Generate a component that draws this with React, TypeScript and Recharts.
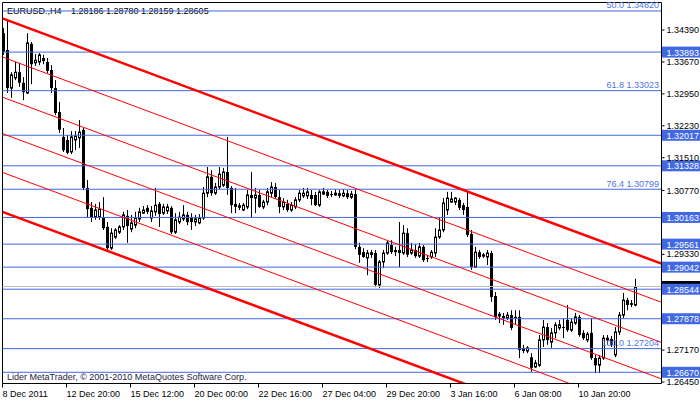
import React from 'react';
import { ComposedChart, XAxis, YAxis, Bar, Line, ReferenceLine, Customized, LabelList } from 'recharts';

const opens = [
  1.3432, 1.3394, 1.3308, 1.3331, 1.3344, 1.3320, 1.3297, 1.3408, 1.3365, 1.3367,
  1.3376, 1.3367, 1.3349, 1.3308, 1.3254, 1.3198, 1.3191, 1.3164, 1.3191, 1.3196,
  1.3214, 1.3083, 1.3038, 1.3017, 1.3017, 1.3017, 1.2995, 1.2947, 1.2972, 1.2983,
  1.2995, 1.3020, 1.2990, 1.2999, 1.3013, 1.3026, 1.3038, 1.3015, 1.3029, 1.3047,
  1.3026, 1.3031, 1.3038, 1.2983, 1.3006, 1.3013, 1.3022, 1.3017, 1.3006, 1.3004,
  1.3015, 1.3071, 1.3108, 1.3071, 1.3085, 1.3089, 1.3119, 1.3083, 1.3047, 1.3044,
  1.3033, 1.3040, 1.3067, 1.3060, 1.3067, 1.3040, 1.3051, 1.3071, 1.3085, 1.3062,
  1.3040, 1.3047, 1.3033, 1.3040, 1.3056, 1.3065, 1.3065, 1.3067, 1.3067, 1.3044,
  1.3069, 1.3074, 1.3069, 1.3067, 1.3071, 1.3065, 1.3071, 1.3062, 1.3069, 1.2950,
  1.2938, 1.2925, 1.2938, 1.2936, 1.2864, 1.2916, 1.2936, 1.2954, 1.2943, 1.2943,
  1.2936, 1.2981, 1.2936, 1.2943, 1.2929, 1.2950, 1.2925, 1.2927, 1.2936, 1.2972,
  1.2988, 1.3033, 1.3051, 1.3051, 1.3056, 1.3044, 1.3040, 1.2979, 1.2904, 1.2938,
  1.2929, 1.2927, 1.2936, 1.2839, 1.2794, 1.2794, 1.2789, 1.2796, 1.2792, 1.2792,
  1.2722, 1.2715, 1.2701, 1.2679, 1.2683, 1.2740, 1.2769, 1.2735, 1.2756, 1.2767,
  1.2769, 1.2785, 1.2762, 1.2778, 1.2792, 1.2756, 1.2740, 1.2756, 1.2699, 1.2683,
  1.2699, 1.2740, 1.2742, 1.2706, 1.2758, 1.2796, 1.2830, 1.2823, 1.28186,
];

const highs = [
  1.3444, 1.3462, 1.3344, 1.3367, 1.3365, 1.3333, 1.3432, 1.3412, 1.3385, 1.3387,
  1.3383, 1.3376, 1.3360, 1.3326, 1.3277, 1.3218, 1.3202, 1.3211, 1.3211, 1.3236,
  1.3218, 1.3101, 1.3051, 1.3047, 1.3051, 1.3062, 1.3006, 1.2992, 1.2992, 1.2999,
  1.3029, 1.3033, 1.3022, 1.3029, 1.3038, 1.3042, 1.3044, 1.3042, 1.3083, 1.3051,
  1.3047, 1.3047, 1.3042, 1.3026, 1.3029, 1.3044, 1.3029, 1.3026, 1.3022, 1.3024,
  1.3085, 1.3130, 1.3123, 1.3094, 1.3130, 1.3128, 1.3198, 1.3087, 1.3083, 1.3049,
  1.3049, 1.3078, 1.3119, 1.3083, 1.3078, 1.3056, 1.3083, 1.3096, 1.3094, 1.3078,
  1.3060, 1.3056, 1.3051, 1.3062, 1.3078, 1.3083, 1.3083, 1.3078, 1.3074, 1.3078,
  1.3083, 1.3078, 1.3076, 1.3080, 1.3078, 1.3080, 1.3078, 1.3076, 1.3080, 1.2959,
  1.2947, 1.2943, 1.2943, 1.2943, 1.2920, 1.2943, 1.2965, 1.2965, 1.2950, 1.3006,
  1.2999, 1.2992, 1.2959, 1.2956, 1.2959, 1.2954, 1.2932, 1.2943, 1.2992, 1.3015,
  1.3060, 1.3074, 1.3074, 1.3062, 1.3060, 1.3049, 1.3074, 1.2988, 1.2950, 1.2943,
  1.2936, 1.2943, 1.2941, 1.2848, 1.2803, 1.2801, 1.2803, 1.2807, 1.2807, 1.2807,
  1.2729, 1.2726, 1.2710, 1.2695, 1.2751, 1.2785, 1.2778, 1.2767, 1.2780, 1.2785,
  1.2789, 1.2819, 1.2789, 1.2801, 1.2796, 1.2762, 1.2758, 1.2789, 1.2706, 1.2706,
  1.2751, 1.2751, 1.2749, 1.2769, 1.2803, 1.2846, 1.2835, 1.2830, 1.28780,
];

const lows = [
  1.3383, 1.3297, 1.3286, 1.3326, 1.3311, 1.3281, 1.3295, 1.3317, 1.3358, 1.3360,
  1.3362, 1.3342, 1.3297, 1.3247, 1.3207, 1.3164, 1.3159, 1.3159, 1.3168, 1.3173,
  1.3078, 1.3017, 1.3006, 1.3011, 1.3011, 1.2988, 1.2943, 1.2943, 1.2968, 1.2979,
  1.2988, 1.2959, 1.2983, 1.2992, 1.3006, 1.3024, 1.3024, 1.3006, 1.3020, 1.2995,
  1.3022, 1.3024, 1.2979, 1.2979, 1.3001, 1.3008, 1.2999, 1.2988, 1.2997, 1.3001,
  1.3011, 1.3062, 1.3065, 1.3067, 1.3080, 1.3085, 1.3067, 1.3026, 1.3026, 1.3033,
  1.3031, 1.3035, 1.3017, 1.3026, 1.3038, 1.3035, 1.3044, 1.3062, 1.3058, 1.3026,
  1.3033, 1.3029, 1.3029, 1.3035, 1.3051, 1.3060, 1.3058, 1.3044, 1.3042, 1.3040,
  1.3067, 1.3060, 1.3062, 1.3065, 1.3060, 1.3062, 1.3058, 1.3058, 1.2945, 1.2914,
  1.2925, 1.2886, 1.2925, 1.2859, 1.2857, 1.2902, 1.2932, 1.2934, 1.2929, 1.2904,
  1.2932, 1.2927, 1.2932, 1.2925, 1.2925, 1.2916, 1.2916, 1.2923, 1.2927, 1.2968,
  1.2983, 1.3022, 1.3049, 1.3044, 1.3033, 1.3022, 1.2972, 1.2898, 1.2904, 1.2923,
  1.2925, 1.2909, 1.2826, 1.2785, 1.2778, 1.2774, 1.2785, 1.2762, 1.2774, 1.2699,
  1.2710, 1.2710, 1.2668, 1.2677, 1.2679, 1.2724, 1.2729, 1.2722, 1.2744, 1.2762,
  1.2744, 1.2758, 1.2758, 1.2774, 1.2747, 1.2740, 1.2735, 1.2695, 1.2665, 1.2665,
  1.2695, 1.2729, 1.2724, 1.2701, 1.2751, 1.2789, 1.2807, 1.2814, 1.28159,
];

const closes = [
  1.3390, 1.3308, 1.3338, 1.3344, 1.3320, 1.3299, 1.3410, 1.3362, 1.3371, 1.3383,
  1.3369, 1.3347, 1.3308, 1.3252, 1.3214, 1.3168, 1.3162, 1.3198, 1.3200, 1.3209,
  1.3083, 1.3035, 1.3017, 1.3033, 1.3035, 1.2992, 1.2947, 1.2981, 1.2988, 1.2995,
  1.3022, 1.2997, 1.3004, 1.3015, 1.3029, 1.3033, 1.3029, 1.3031, 1.3044, 1.3024,
  1.3040, 1.3040, 1.2983, 1.3011, 1.3017, 1.3022, 1.3006, 1.3006, 1.3013, 1.3015,
  1.3071, 1.3108, 1.3071, 1.3085, 1.3114, 1.3119, 1.3083, 1.3044, 1.3040, 1.3038,
  1.3044, 1.3067, 1.3060, 1.3067, 1.3040, 1.3051, 1.3074, 1.3085, 1.3062, 1.3040,
  1.3051, 1.3033, 1.3044, 1.3056, 1.3071, 1.3071, 1.3074, 1.3058, 1.3044, 1.3074,
  1.3074, 1.3065, 1.3067, 1.3071, 1.3065, 1.3071, 1.3062, 1.3069, 1.2950, 1.2932,
  1.2927, 1.2936, 1.2932, 1.2864, 1.2916, 1.2936, 1.2959, 1.2938, 1.2938, 1.2936,
  1.2981, 1.2932, 1.2943, 1.2929, 1.2950, 1.2920, 1.2923, 1.2938, 1.2972, 1.2988,
  1.3049, 1.3060, 1.3058, 1.3060, 1.3038, 1.3033, 1.2977, 1.2904, 1.2938, 1.2927,
  1.2932, 1.2936, 1.2837, 1.2792, 1.2798, 1.2789, 1.2796, 1.2767, 1.2789, 1.2717,
  1.2715, 1.2722, 1.2677, 1.2688, 1.2740, 1.2769, 1.2740, 1.2756, 1.2774, 1.2774,
  1.2767, 1.2762, 1.2780, 1.2792, 1.2751, 1.2744, 1.2753, 1.2699, 1.2683, 1.2699,
  1.2744, 1.2744, 1.2729, 1.2758, 1.2796, 1.2830, 1.2819, 1.2819, 1.28605,
];

const timeTickBars = [0, 16, 32, 48, 64, 80, 96, 112, 128, 144];
const timeTickLabels = [
  '8 Dec 2011', '12 Dec 20:00', '15 Dec 12:00', '20 Dec 00:00', '22 Dec 16:00',
  '27 Dec 04:00', '29 Dec 20:00', '3 Jan 16:00', '6 Jan 08:00', '10 Jan 20:00',
];
const priceTicks = [1.2645, 1.2717, 1.2933, 1.3077, 1.3151, 1.3223, 1.3295, 1.3367, 1.3439];
const boxedLevels = [1.33893, 1.32017, 1.31328, 1.30163, 1.29561, 1.29042, 1.28544, 1.27878, 1.2667];
const fiboLevels = [1.3482, 1.33023, 1.30799, 1.27204];
const fiboRatios = ['50.0', '61.8', '76.4', '100.0'];
const lastPrice = 1.28605;
const headerSymbol = 'EURUSD.,H4';
const copyright = 'Lider MetaTrader, \u00a9 2001-2010 MetaQuotes Software Corp.';

// channel lines: price at left edge and at right edge of the chart
const channelStart = [1.34653, 1.33782, 1.32876, 1.32054, 1.31179, 1.3029];
const channelEnd = [1.2912, 1.28249, 1.27342, 1.26521, 1.25646, 1.24757];

const X_START = -0.25;
const X_END = 164.375;
const Y_MIN = 1.264171;
const Y_MAX = 1.350117;

const FONT = '"Liberation Sans", Arial, sans-serif';
const BLUE = '#4169E1';
const FIBO_TEXT = '#5073e6';

const candles = opens.map((o, i) => ({
  x: i,
  open: o,
  high: highs[i],
  low: lows[i],
  close: closes[i],
  range: [lows[i], highs[i]],
}));

const fiboPoints = fiboLevels.map((v, i) => ({
  x: X_END,
  y: v,
  text: fiboRatios[i] + ' ' + v.toFixed(5),
}));

const Candle = (props: any) => {
  const { x, y, width, height, payload } = props;
  if (payload == null || x == null) return null;
  const { open, high, low, close } = payload;
  const cx = Math.round(x + width / 2 - 0.5) + 0.5;
  const top = Math.min(y, y + height);
  const h = Math.abs(height);
  const k = high - low > 0 ? h / (high - low) : 0;
  const yO = top + (high - open) * k;
  const yC = top + (high - close) * k;
  const bTop = Math.min(yO, yC);
  const bH = Math.max(Math.abs(yC - yO), 1);
  const bull = close >= open;
  if (bull) {
    return (
      <g>
        <line x1={cx} x2={cx} y1={top} y2={bTop} stroke="#000" strokeWidth={1} />
        <line x1={cx} x2={cx} y1={bTop + bH} y2={top + h} stroke="#000" strokeWidth={1} />
        <rect x={cx - 1} y={bTop} width={2} height={bH} fill="none" stroke="#000" strokeWidth={1} />
      </g>
    );
  }
  return (
    <g>
      <line x1={cx} x2={cx} y1={top} y2={top + h} stroke="#000" strokeWidth={1} />
      <rect x={cx - 1.5} y={bTop} width={3} height={bH} fill="#000" />
    </g>
  );
};

const PriceTick = (props: any) => {
  const { x, y, payload } = props;
  return (
    <g>
      <line x1={x} x2={x + 3} y1={y} y2={y} stroke="#000" strokeWidth={1} />
      <text x={x + 5} y={y + 3} fontSize={9} fontFamily={FONT} fill="#000">
        {Number(payload.value).toFixed(5)}
      </text>
    </g>
  );
};

const TimeTick = (props: any) => {
  const { x, y, payload } = props;
  const idx = timeTickBars.indexOf(payload.value);
  const xs = Math.round(x - 0.5) + 0.5;
  return (
    <g>
      <line x1={xs - 1} x2={xs - 1} y1={y} y2={y + 4} stroke="#000" strokeWidth={1} />
      <text x={xs - 1} y={y + 13.5} fontSize={9} fontFamily={FONT} fill="#000">
        {idx >= 0 ? timeTickLabels[idx] : ''}
      </text>
    </g>
  );
};

const boxLabel = (value: number, fill: string) => (props: any) => {
  const vb = props.viewBox || {};
  const xr = (vb.x || 0) + (vb.width || 0);
  const yy = vb.y || 0;
  return (
    <g>
      <rect x={xr + 0.5} y={yy - 5.5} width={40} height={11} fill={fill} />
      <text x={xr + 5} y={yy + 3.5} fontSize={9} fontFamily={FONT} fill="#fff">
        {value.toFixed(5)}
      </text>
    </g>
  );
};

const FiboText = (props: any) => {
  const { x, y, value } = props;
  if (x == null || y == null) return null;
  return (
    <text x={x - 2.5} y={y - 2.5} textAnchor="end" fontSize={9} fontFamily={FONT} fill={FIBO_TEXT}>
      {value}
    </text>
  );
};

const Texts = () => (
  <g>
    <text x={7} y={14} fontSize={9} fontFamily={FONT} fill="#000">
      {headerSymbol}
    </text>
    <text x={71} y={14} fontSize={9} fontFamily={FONT} fill="#000" style={{ whiteSpace: 'pre' }}>
      {[opens[opens.length - 1], highs[highs.length - 1], lows[lows.length - 1], closes[closes.length - 1]]
        .map((v) => v.toFixed(5))
        .join(' ')}
    </text>
    <text x={7} y={380} fontSize={9} fontFamily={FONT} fill="#1c1c3c">
      {copyright}
    </text>
  </g>
);

export default function App() {
  return (
    <div style={{ position: 'absolute', left: 0, top: 0, width: 700, height: 402, background: '#fff' }}>
      <ComposedChart
        width={700}
        height={402}
        data={candles}
        margin={{ top: 2.5, right: 0, bottom: 0, left: 2.5 }}
      >
        <XAxis
          dataKey="x"
          type="number"
          domain={[X_START, X_END]}
          allowDataOverflow
          ticks={timeTickBars}
          interval={0}
          height={18.5}
          tickSize={0}
          tickMargin={0}
          tickLine={false}
          axisLine={{ stroke: '#000' }}
          tick={<TimeTick />}
        />
        <YAxis
          orientation="right"
          type="number"
          domain={[Y_MIN, Y_MAX]}
          allowDataOverflow
          ticks={priceTicks}
          interval={0}
          width={38.5}
          tickSize={0}
          tickMargin={0}
          tickLine={false}
          axisLine={{ stroke: '#000' }}
          tick={<PriceTick />}
        />
        <ReferenceLine x={X_START} stroke="#000" strokeWidth={1} />
        <ReferenceLine y={Y_MAX} stroke="#000" strokeWidth={1} />
        <ReferenceLine y={lastPrice} stroke="#c0c0c0" strokeWidth={1} label={boxLabel(lastPrice, '#000')} />
        {boxedLevels.map((v) => (
          <ReferenceLine key={'b' + v} y={v} stroke={BLUE} strokeWidth={1} label={boxLabel(v, BLUE)} />
        ))}
        {fiboLevels.map((v) => (
          <ReferenceLine key={'f' + v} y={v} stroke={BLUE} strokeWidth={1} />
        ))}
        {channelStart.map((p0, k) => (
          <Line
            key={'c' + k}
            data={[
              { x: X_START, y: p0 },
              { x: X_END, y: channelEnd[k] },
            ]}
            dataKey="y"
            stroke="#ff0000"
            strokeWidth={k === 0 || k === channelStart.length - 1 ? 2.5 : 1}
            dot={false}
            activeDot={false}
            isAnimationActive={false}
          />
        ))}
        <Bar dataKey="range" barSize={3} shape={<Candle />} isAnimationActive={false} />
        <Line
          data={fiboPoints}
          dataKey="y"
          stroke="none"
          dot={false}
          activeDot={false}
          isAnimationActive={false}
        >
          <LabelList dataKey="text" content={<FiboText />} />
        </Line>
        <Customized component={<Texts />} />
      </ComposedChart>
    </div>
  );
}
